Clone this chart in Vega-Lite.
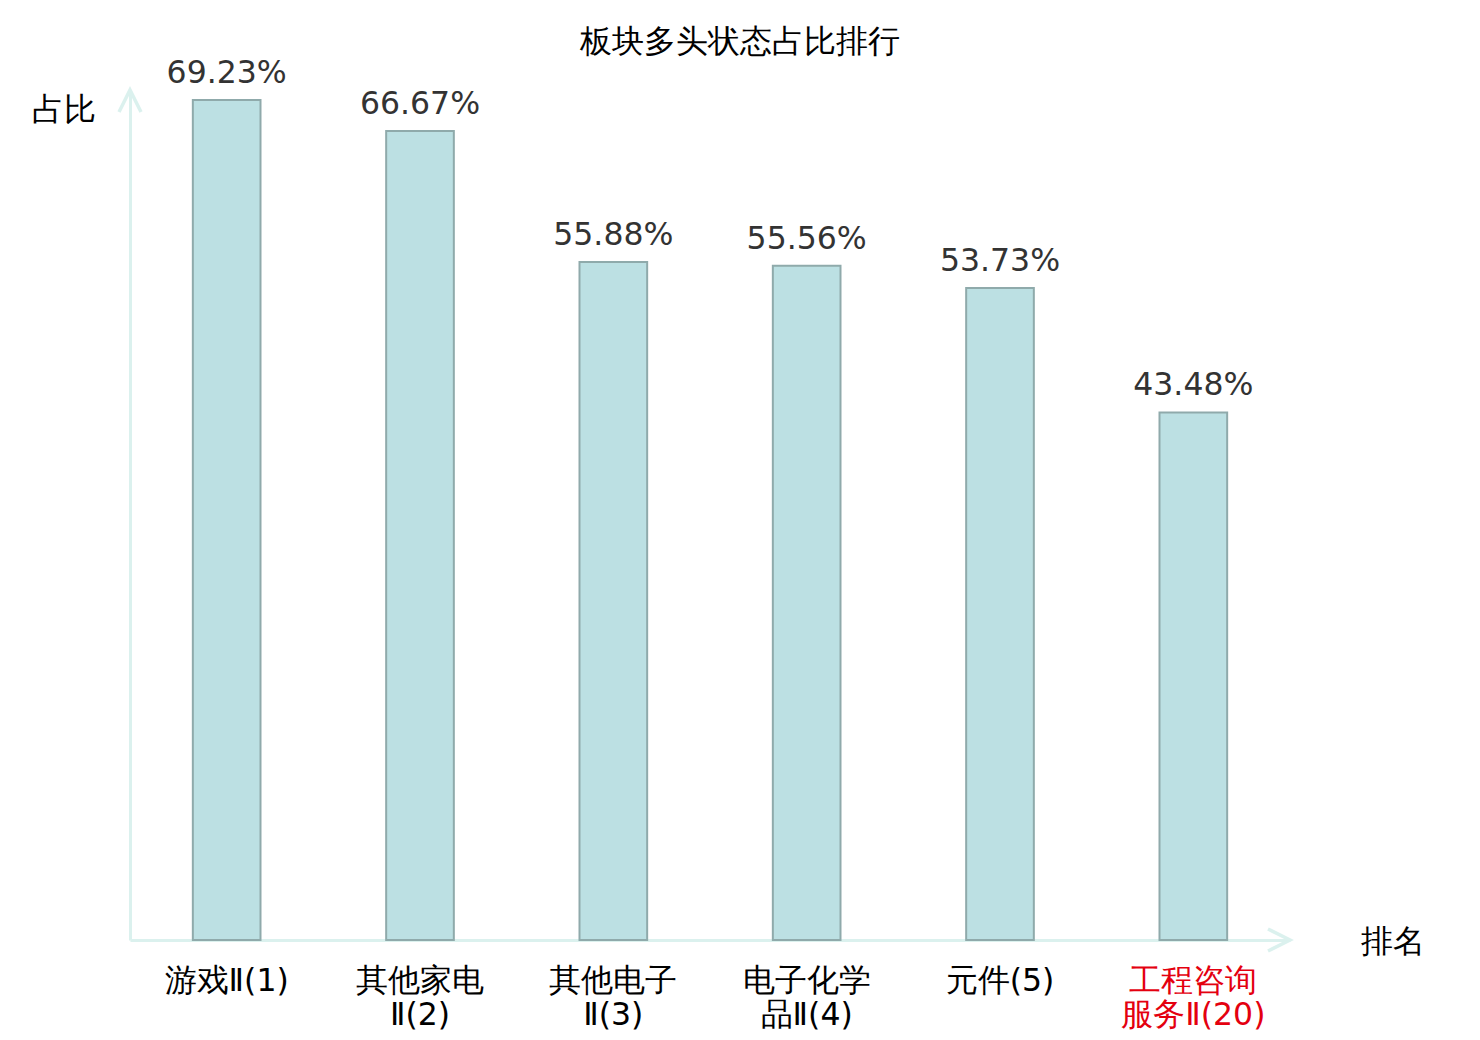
{
  "$schema": "https://vega.github.io/schema/vega-lite/v6.json",
  "width": 1160,
  "height": 850,
  "autosize": "none",
  "padding": {"left": 130, "top": 90, "right": 190, "bottom": 100},
  "background": "white",
  "title": {
    "text": "板块多头状态占比排行",
    "fontSize": 32,
    "fontWeight": "normal",
    "color": "black",
    "anchor": "middle",
    "frame": "group",
    "offset": -1,
    "dx": 30,
    "font": "DejaVu Sans"
  },
  "layer": [
    {
      "data": {
        "values": [
          {"name": "游戏Ⅱ(1)", "ratio": 0.6923},
          {"name": "其他家电|Ⅱ(2)", "ratio": 0.6667},
          {"name": "其他电子|Ⅱ(3)", "ratio": 0.5588},
          {"name": "电子化学|品Ⅱ(4)", "ratio": 0.5556},
          {"name": "元件(5)", "ratio": 0.5373},
          {"name": "工程咨询|服务Ⅱ(20)", "ratio": 0.4348}
        ]
      },
      "encoding": {
        "x": {
          "field": "name",
          "type": "nominal",
          "sort": null,
          "scale": {"paddingInner": 0.65, "paddingOuter": 0.325},
          "axis": {
            "title": "排名",
            "titleFontSize": 31.5,
            "titleFontWeight": "normal",
            "titleColor": "black",
            "titleAnchor": "start",
            "titleAlign": "center",
            "titleBaseline": "middle",
            "titleX": 1262,
            "titleY": 2,
            "labelAngle": 0,
            "labelFontSize": 31.5,
            "labelColor": {
              "condition": {"test": "indexof(datum.value, '工程') >= 0", "value": "#e4000f"},
              "value": "black"
            },
            "labelExpr": "split(datum.label, '|')",
            "labelLineHeight": 34,
            "labelBaseline": "top",
            "labelPadding": 25,
            "labelLimit": 400,
            "ticks": false,
            "domainColor": "#dbf1ee",
            "domainWidth": 3,
            "grid": false
          }
        },
        "y": {
          "field": "ratio",
          "type": "quantitative",
          "scale": {"domain": [0, 0.7005], "nice": false},
          "axis": {
            "title": "占比",
            "titleFontSize": 31.5,
            "titleFontWeight": "normal",
            "titleColor": "black",
            "titleAngle": 0,
            "titleAlign": "center",
            "titleBaseline": "middle",
            "titleX": -67,
            "titleY": 20,
            "labels": false,
            "ticks": false,
            "grid": false,
            "domainColor": "#dbf1ee",
            "domainWidth": 3
          }
        }
      },
      "layer": [
        {"mark": {"type": "bar", "fill": "#bce0e3", "stroke": "#8faaab", "strokeWidth": 2}},
        {
          "mark": {"type": "text", "fontSize": 31.5, "color": "#333333", "baseline": "alphabetic", "dy": -17},
          "encoding": {"text": {"field": "ratio", "type": "quantitative", "format": ".2%"}}
        }
      ]
    },
    {
      "data": {"values": [{}]},
      "mark": {"type": "point", "filled": false, "stroke": "#dbf1ee", "strokeWidth": 3.5, "size": 484, "shape": "M-1,2L0,0L1,2", "opacity": 1},
      "encoding": {
        "x": {"datum": 0, "type": "quantitative", "scale": {"domain": [0, 1]}, "axis": null},
        "y": {"datum": 0.7005, "type": "quantitative"}
      }
    },
    {
      "data": {"values": [{}]},
      "mark": {"type": "point", "filled": false, "stroke": "#dbf1ee", "strokeWidth": 3.5, "size": 484, "shape": "M-2,-1L0,0L-2,1", "opacity": 1},
      "encoding": {
        "x": {"datum": 1, "type": "quantitative", "scale": {"domain": [0, 1]}, "axis": null},
        "y": {"datum": 0, "type": "quantitative"}
      }
    }
  ],
  "resolve": {"scale": {"x": "independent"}},
  "config": {
    "view": {"stroke": null},
    "font": "DejaVu Sans"
  }
}
